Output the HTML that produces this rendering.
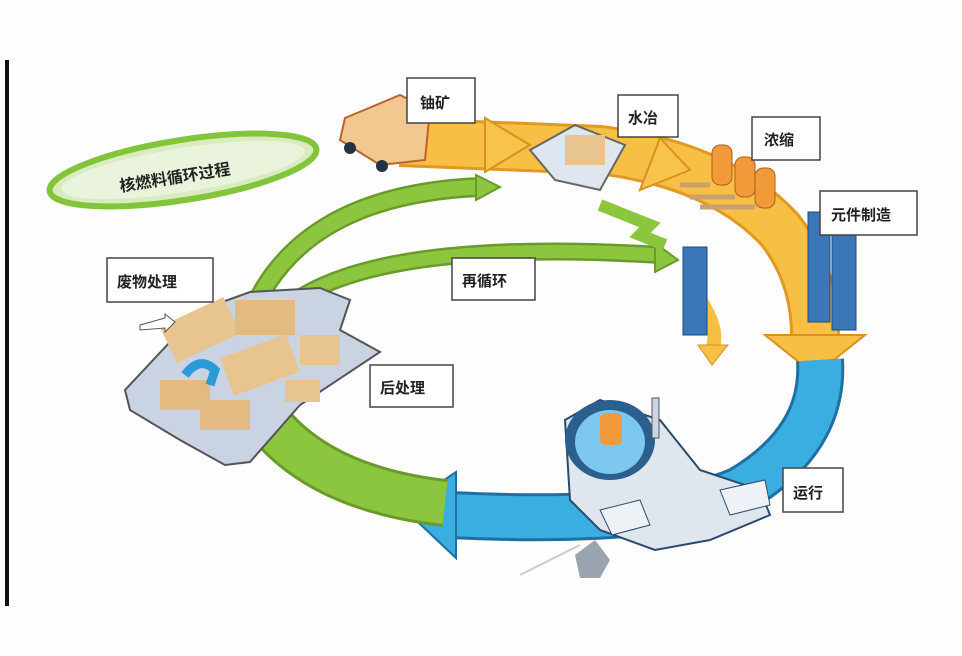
<!DOCTYPE html>
<html><head><meta charset="utf-8"><style>
html,body{margin:0;padding:0;background:#fff;}
svg{display:block}
text{font-family:"Liberation Sans","Noto Sans CJK SC",sans-serif;font-weight:bold;fill:#222;}
</style></head><body>
<svg width="962" height="656" viewBox="0 0 962 656" xmlns="http://www.w3.org/2000/svg">
<rect width="962" height="656" fill="#fdfdfe"/>
<rect x="5" y="60" width="4" height="546" fill="#111"/>

<!-- green upper arcs -->
<path d="M245 330 Q290 195 480 187" fill="none" stroke="#6a9a2a" stroke-width="20"/>
<path d="M245 330 Q290 195 480 187" fill="none" stroke="#8cc63f" stroke-width="15"/>
<polygon points="476,175 500,187 476,200" fill="#8cc63f" stroke="#6a9a2a" stroke-width="2"/>
<path d="M265 330 Q330 235 660 255" fill="none" stroke="#6a9a2a" stroke-width="18"/>
<path d="M265 330 Q330 235 660 255" fill="none" stroke="#8cc63f" stroke-width="13"/>
<polygon points="655,243 678,260 655,272" fill="#8cc63f" stroke="#6a9a2a" stroke-width="2"/>
<path d="M600 205 L650 225 L640 235 L665 245" fill="none" stroke="#8cc63f" stroke-width="12"/>

<!-- orange band -->
<path d="M400 142 L600 150 Q720 165 780 230 Q815 275 815 335" fill="none" stroke="#e09a20" stroke-width="50"/>
<path d="M400 142 L600 150 Q720 165 780 230 Q815 275 815 335" fill="none" stroke="#f8bf45" stroke-width="44"/>
<polygon points="485,118 530,145 485,172" fill="#f8c34a" stroke="#d99020" stroke-width="2"/>
<polygon points="660,138 690,170 640,190" fill="#f8c34a" stroke="#d99020" stroke-width="2"/>
<polygon points="765,335 865,335 815,375" fill="#f8bf45" stroke="#d99020" stroke-width="2"/>
<path d="M700 300 Q720 330 712 350" fill="none" stroke="#f8bf45" stroke-width="14"/>
<polygon points="698,345 728,345 712,365" fill="#f8bf45" stroke="#d99020" stroke-width="1"/>

<!-- blue band -->
<path d="M820 360 Q825 440 740 490 Q660 525 450 515" fill="none" stroke="#1f6fa0" stroke-width="48"/>
<path d="M820 360 Q825 440 740 490 Q660 525 450 515" fill="none" stroke="#3aaee0" stroke-width="42"/>
<polygon points="456,472 456,558 403,508" fill="#3aaee0" stroke="#1f6fa0" stroke-width="2"/>

<!-- green lower band -->
<path d="M445 503 Q330 490 275 430" fill="none" stroke="#6a9a2a" stroke-width="48"/>
<path d="M445 503 Q330 490 275 430" fill="none" stroke="#8cc63f" stroke-width="42"/>

<!-- waste plant -->
<polygon points="125,390 200,310 250,292 320,288 350,300 340,330 380,352 300,405 250,462 225,465 180,440 130,410" fill="#c9d3e2" stroke="#555" stroke-width="2"/>
<rect x="165" y="310" width="70" height="40" fill="#e8c48f" transform="rotate(-25 200 330)"/>
<rect x="235" y="300" width="60" height="35" fill="#e3bb80"/>
<rect x="225" y="345" width="70" height="40" fill="#e8c48f" transform="rotate(-20 260 365)"/>
<rect x="160" y="380" width="50" height="30" fill="#e3bb80"/>
<rect x="300" y="335" width="40" height="30" fill="#e8c48f"/>
<rect x="200" y="400" width="50" height="30" fill="#e3bb80"/>
<rect x="285" y="380" width="35" height="22" fill="#e8c48f"/>
<path d="M185 375 Q200 355 215 370 L210 385" fill="none" stroke="#2b9ad8" stroke-width="9"/>
<polygon points="140,325 165,318 165,314 175,322 165,332 165,328 140,330" fill="#fff" stroke="#555"/>

<!-- truck -->
<polygon points="345,118 400,95 430,110 425,160 380,165 340,140" fill="#f0c890" stroke="#c0602a" stroke-width="2"/>
<circle cx="350" cy="148" r="6" fill="#234"/><circle cx="382" cy="166" r="6" fill="#234"/>
<!-- mill -->
<polygon points="530,150 575,125 625,145 600,190 555,180" fill="#dfe6f0" stroke="#666" stroke-width="2"/>
<rect x="565" y="135" width="40" height="30" fill="#e8c48f"/>
<!-- enrichment -->
<g fill="#f09a3a" stroke="#b0601a">
<rect x="712" y="145" width="20" height="40" rx="8"/><rect x="735" y="157" width="20" height="40" rx="8"/><rect x="755" y="168" width="20" height="40" rx="8"/>
</g>
<g stroke="#c9a070" stroke-width="5"><line x1="680" y1="185" x2="710" y2="185"/><line x1="690" y1="197" x2="735" y2="197"/><line x1="700" y1="207" x2="755" y2="207"/></g>
<!-- fuel rods -->
<rect x="808" y="212" width="22" height="110" fill="#3a77b8" stroke="#1c4b7c"/>
<rect x="832" y="230" width="24" height="100" fill="#3a77b8" stroke="#1c4b7c"/>
<rect x="683" y="247" width="24" height="88" fill="#3a77b8" stroke="#1c4b7c"/>

<!-- reactor -->
<polygon points="565,420 600,400 660,420 700,470 760,490 770,515 710,540 655,550 600,530 570,500" fill="#dfe6ee" stroke="#2a4a70" stroke-width="2"/>
<ellipse cx="610" cy="440" rx="45" ry="40" fill="#2a5f8e"/>
<ellipse cx="610" cy="442" rx="35" ry="32" fill="#7cc8ee"/>
<rect x="600" y="413" width="22" height="32" rx="6" fill="#f09a3a"/>
<rect x="652" y="398" width="7" height="40" fill="#cbd6e2" stroke="#555"/>
<polygon points="600,510 640,500 650,525 612,535" fill="#eef2f6" stroke="#2a4a70"/>
<polygon points="720,490 765,480 770,505 730,515" fill="#eef2f6" stroke="#2a4a70"/>
<polygon points="575,555 595,540 610,560 600,578 580,578" fill="#9aa4ae"/>
<line x1="520" y1="575" x2="580" y2="545" stroke="#ccc" stroke-width="2"/>

<!-- title ellipse -->
<ellipse cx="183" cy="170" rx="135" ry="30" transform="rotate(-9 183 170)" fill="#d8ecc0" stroke="#82c43a" stroke-width="6"/>
<ellipse cx="183" cy="170" rx="123" ry="22" transform="rotate(-9 183 170)" fill="#eaf4dc"/>
<text x="175" y="183" font-size="16" text-anchor="middle" transform="rotate(-9 175 178)" fill="#333">核燃料循环过程</text>

<!-- labels -->
<g fill="#fff" stroke="#444" stroke-width="1.5">
<rect x="407" y="78" width="68" height="45"/>
<rect x="618" y="95" width="60" height="42"/>
<rect x="752" y="117" width="68" height="43"/>
<rect x="820" y="191" width="97" height="44"/>
<rect x="452" y="258" width="83" height="42"/>
<rect x="107" y="258" width="106" height="44"/>
<rect x="370" y="365" width="83" height="42"/>
<rect x="783" y="468" width="60" height="44"/>
</g>
<g font-size="15">
<text x="420" y="108">铀矿</text>
<text x="628" y="123">水冶</text>
<text x="764" y="145">浓缩</text>
<text x="831" y="220">元件制造</text>
<text x="462" y="286">再循环</text>
<text x="117" y="287">废物处理</text>
<text x="380" y="393">后处理</text>
<text x="793" y="498">运行</text>
</g>
</svg>
</body></html>
